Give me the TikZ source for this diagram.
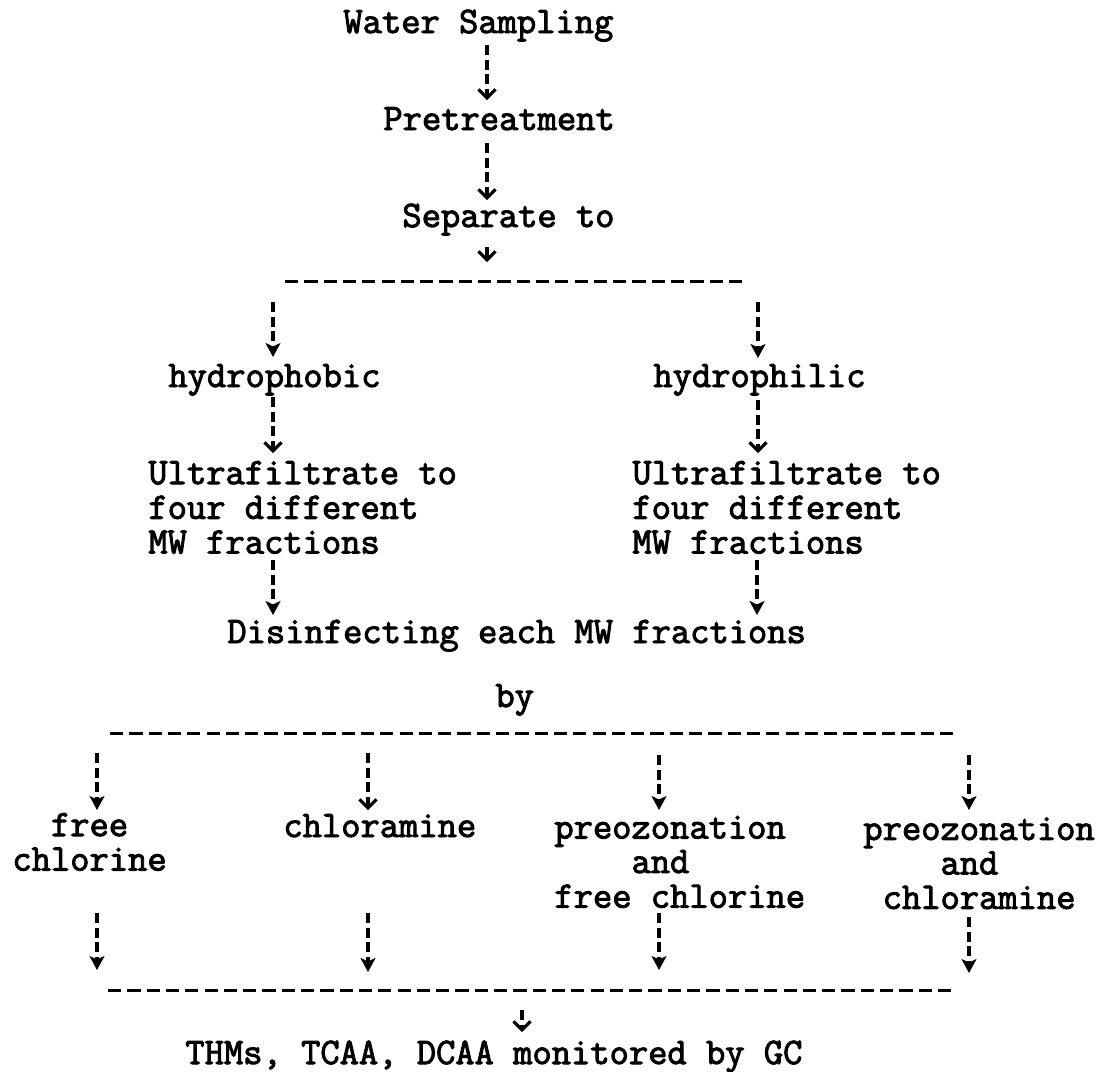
\documentclass[tikz,border=0pt]{standalone}
\usepackage{fontspec}
\newfontfamily\twfont{Latin Modern Mono}[FakeBold=2.6]
\usetikzlibrary{arrows.meta}
\begin{document}
\begin{tikzpicture}[x=0.5pt,y=-0.5pt,
  font=\twfont\fontsize{18.72}{16}\selectfont,
  txt/.style={inner sep=0pt, anchor=base west},
  ml/.style={inner sep=0pt, anchor=north west, align=left},
  vline/.style={line width=1.6pt, dash pattern=on 5pt off 2.3pt},
  arrf/.style={vline, -{Stealth[length=7pt,width=7.5pt,inset=1.8pt]}},
  arrc/.style={vline, -{Straight Barb[length=4.2pt,width=8.5pt]}},
  hbar/.style={line width=1.5pt, dash pattern=on 6.6pt off 3.05pt}]
\useasboundingbox (0,0) rectangle (1099,1072);

% text nodes
\node[txt] (ws)    at (343,33)  {Water Sampling};
\node[txt] (pre)   at (383,130) {Pretreatment};
\node[txt] (sep)   at (402,227) {Separate to};
\node[txt] (hphob) at (168,387) {hydrophobic};
\node[txt] (hphil) at (653,387) {hydrophilic};
\node[ml]  (ufL)   at (148,460.6) {\strut Ultrafiltrate to\\\strut four different\\\strut MW fractions};
\node[ml]  (ufR)   at (632,460.6) {\strut Ultrafiltrate to\\\strut four different\\\strut MW fractions};
\node[txt] (dis)   at (227,643) {Disinfecting each MW fractions};
\node[txt] (by)    at (495,707) {by};
\node[ml]  (fc)    at (12,812.6)  {\strut\phantom{xx}free\\\strut chlorine};
\node[txt] (cam)   at (283,837) {chloramine};
\node[ml]  (pfc)   at (554,815.6) {\strut preozonation\\\strut\phantom{xxxx}and\\\strut free chlorine};
\node[ml]  (pca)   at (863,817)   {\strut preozonation\\\strut\phantom{xxxx}and\\\strut\phantom{x}chloramine};
\node[txt] (out)   at (185,1064) {THMs, TCAA, DCAA monitored by GC};

% connector end points
\coordinate (a1s) at (487,45);   \coordinate (a1e) at (487,100);
\coordinate (a2s) at (487,143);  \coordinate (a2e) at (487,200);
\coordinate (a3s) at (487,247);  \coordinate (a3e) at (487,262);
\coordinate (b1l) at (285,281);  \coordinate (b1r) at (745,281);
\coordinate (a4s) at (273,302);  \coordinate (a4e) at (273,357);
\coordinate (a5s) at (758,302);  \coordinate (a5e) at (758,358);
\coordinate (a6s) at (273,397);  \coordinate (a6e) at (273,453);
\coordinate (a7s) at (758,400);  \coordinate (a7e) at (758,453);
\coordinate (a8s) at (273,560);  \coordinate (a8e) at (273,615);
\coordinate (a9s) at (757,560);  \coordinate (a9e) at (757,615);
\coordinate (b2l) at (110,733);  \coordinate (b2r) at (957,733);
\coordinate (c1s) at (97,753);   \coordinate (c1e) at (97,810);
\coordinate (c2s) at (368,753);  \coordinate (c2e) at (368,810);
\coordinate (c3s) at (659,755);  \coordinate (c3e) at (659,810);
\coordinate (c4s) at (969,755);  \coordinate (c4e) at (969,810);
\coordinate (d1s) at (97,913);   \coordinate (d1e) at (97,970);
\coordinate (d2s) at (368,913);  \coordinate (d2e) at (368,972);
\coordinate (d3s) at (659,913);  \coordinate (d3e) at (659,970);
\coordinate (d4s) at (969,917);  \coordinate (d4e) at (969,973);
\coordinate (b3l) at (108,990);  \coordinate (b3r) at (957,990);
\coordinate (fs)  at (522,1010); \coordinate (fe)  at (522,1032);

% connectors
\draw[arrc] (a1s) -- (a1e);
\draw[arrc] (a2s) -- (a2e);
\draw[arrc] (a3s) -- (a3e);
\draw[hbar] (b1l) -- (b1r);
\draw[arrf] (a4s) -- (a4e);
\draw[arrf] (a5s) -- (a5e);
\draw[arrc] (a6s) -- (a6e);
\draw[arrc] (a7s) -- (a7e);
\draw[arrf] (a8s) -- (a8e);
\draw[arrf] (a9s) -- (a9e);
\draw[hbar] (b2l) -- (b2r);
\draw[arrf] (c1s) -- (c1e);
\draw[arrc] (c2s) -- (c2e);
\draw[arrf] (c3s) -- (c3e);
\draw[arrf] (c4s) -- (c4e);
\draw[arrf] (d1s) -- (d1e);
\draw[arrf] (d2s) -- (d2e);
\draw[arrf] (d3s) -- (d3e);
\draw[arrf] (d4s) -- (d4e);
\draw[hbar] (b3l) -- (b3r);
\draw[arrc] (fs) -- (fe);
\end{tikzpicture}
\end{document}
